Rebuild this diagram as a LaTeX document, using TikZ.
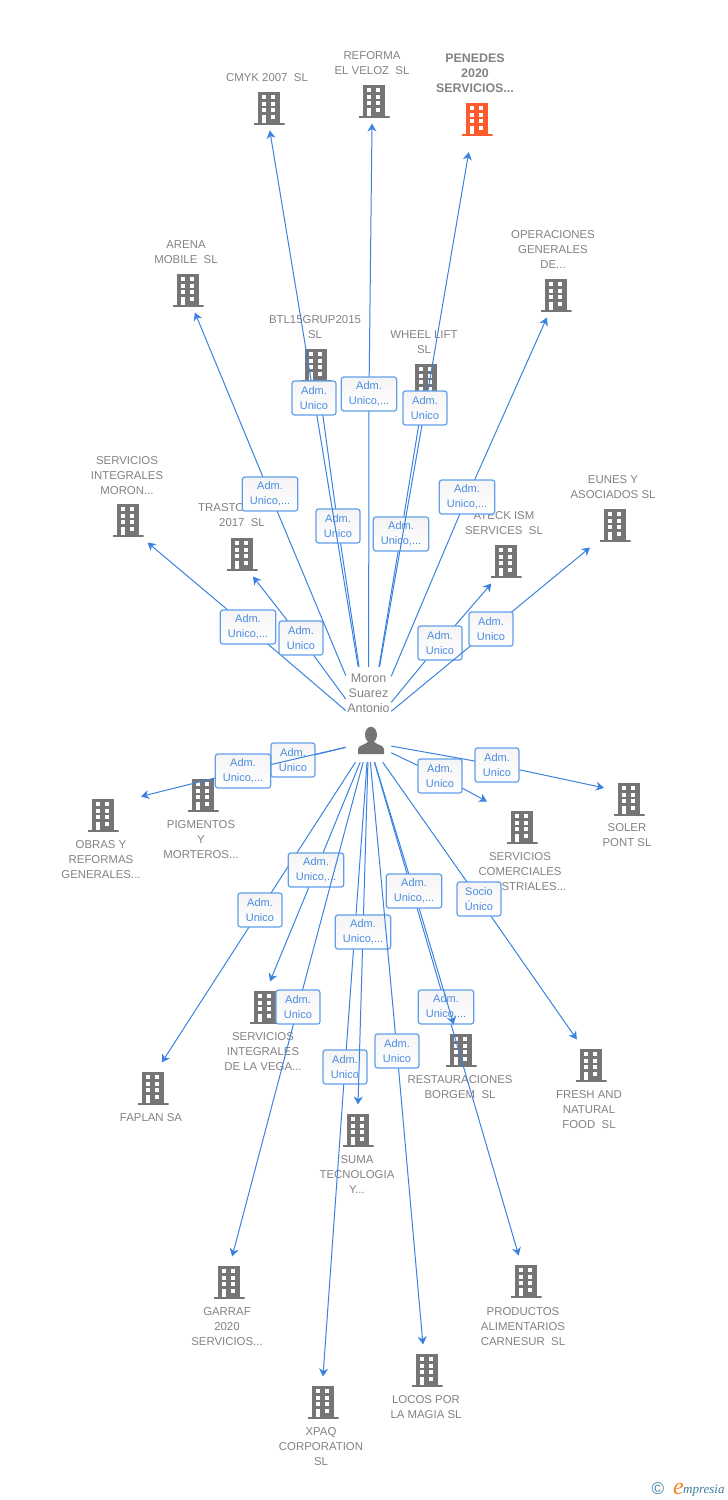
\documentclass[tikz,border=0pt]{standalone}
\usepackage{fontspec}
\setmainfont{Liberation Sans}
\newfontfamily\logofont{Liberation Serif}
\usetikzlibrary{arrows.meta}

\definecolor{officegrey}{HTML}{757575}
\definecolor{officefocus}{HTML}{FF5A2B}
\definecolor{captiongrey}{HTML}{828282}
\definecolor{linkblue}{HTML}{3B82E0}
\definecolor{tagborder}{HTML}{619EEA}
\definecolor{tagtext}{HTML}{4A8BE0}
\definecolor{tagshade}{HTML}{F4F4F4}
\definecolor{logoteal}{HTML}{3F7F9F}
\definecolor{logoorange}{HTML}{F5851F}

\newcommand{\officeshape}[1]{
    \begin{scope}[shift={(path picture bounding box.center)}]
        \fill[#1] (-11,-16.5) rectangle (11,14.5);
        \fill[#1] (-15.5,14.5) rectangle (15.5,16.5);
        \foreach \wy in {-13.5,-6.2,0.2} {
            \fill[white] (-7.3,\wy) rectangle (-3.3,\wy+4);
            \fill[white] (2.3,\wy) rectangle (6.3,\wy+4);
        }
        \fill[white] (2.3,6.8) rectangle (6.3,10.8);
        \fill[white] (-7.3,6.8) rectangle (-3.3,14.5);
    \end{scope}
}
\newcommand{\personshape}{
    \begin{scope}[shift={(path picture bounding box.center)}]
        \fill[officegrey] (2.5,-7.2) ellipse (6 and 8);
        \fill[officegrey] (-10.5,12) -- (-10.5,7) .. controls (-10.5,3) and (-3,3) .. (-1,0)
            -- (6,0) .. controls (8,3) and (15.5,3) .. (15.5,7) -- (15.5,12) -- cycle;
    \end{scope}
}
\newcommand{\uno}{Adm.\\Unico}
\newcommand{\more}{Adm.\\Unico,...}

\tikzset{
    office/.style={rectangle, inner sep=0pt, minimum width=31pt, minimum height=33pt,
        outer xsep=9.5pt, path picture={\officeshape{#1}}},
    office/.default=officegrey,
    upoffice/.style={office, outer ysep=6pt},
    lowoffice/.style={office, outer ysep=9pt},
    caption/.style={align=center, text=captiongrey, inner sep=0pt,
        font=\fontsize{11.4}{15}\selectfont},
    person/.style={rectangle, inner sep=0pt, minimum width=45pt, minimum height=40pt,
        path picture={\personshape}},
    personname/.style={rectangle, inner sep=0pt, text=captiongrey,
        font=\fontsize{12.5}{15}\selectfont},
    link/.style={draw=linkblue, line width=1pt},
    linkto/.style={link, -{Stealth[length=8pt,width=9pt,inset=2.5pt]}},
    tag/.style={rectangle, rounded corners=2.5pt, draw=tagborder, line width=1.2pt,
        top color=tagshade, bottom color=white, text=tagtext, align=center,
        inner xsep=7.5pt, inner ysep=0pt, minimum width=44pt, minimum height=34pt,
        font=\fontsize{11}{15}\selectfont}
}

\begin{document}
\begin{tikzpicture}[x=1pt,y=-1pt]
    \useasboundingbox (0,0) rectangle (728,1500);

    % companies above the person
    \foreach \name/\ox/\oy in {cmyk/269/108, reforma/374/101, arena/188/290, operaciones/556/295,
        btl/316/365, wheel/426/380, moronint/128/520, trasto/242/554, ateck/506/561, eunes/615/525} {
        \node[upoffice] (\name) at (\ox,\oy) {};
    }
    \node[office=officefocus, outer ysep=16.5pt] (penedes) at (477,119) {};

    % companies below the person
    \foreach \name/\ox/\oy in {pigmentos/203/795, soler/629/799, faplan/153/1088, vega/265/1007,
        garraf/229/1282, suma/358/1130, xpaq/323/1402, locos/427/1370, borgem/461/1050,
        productos/526/1281, fresh/591/1065} {
        \node[lowoffice] (\name) at (\ox,\oy) {};
    }
    \node[lowoffice, outer xsep=22.5pt] (obras) at (103,815) {};
    \node[lowoffice, outer xsep=19.5pt] (comerciales) at (522,827) {};

    % names of the companies
    \foreach \name/\cx/\cy/\ctext in {
        cmyk/267/78/{CMYK 2007~~SL},
        reforma/372/63/{REFORMA\\EL VELOZ~~SL},
        arena/186/252/{ARENA\\MOBILE~~SL},
        operaciones/553/250/{OPERACIONES\\GENERALES\\DE...},
        btl/315/327/{BTL15GRUP2015\\SL},
        wheel/424/342/{WHEEL LIFT\\SL},
        moronint/127/476/{SERVICIOS\\INTEGRALES\\MORON...},
        ateck/504/523/{ATECK ISM\\SERVICES~~SL},
        eunes/613/487/{EUNES Y\\ASOCIADOS SL},
        obras/101/860/{OBRAS Y\\REFORMAS\\GENERALES...},
        pigmentos/201/840/{PIGMENTOS\\Y\\MORTEROS...},
        soler/627/835/{SOLER\\PONT SL},
        comerciales/520/872/{SERVICIOS\\COMERCIALES\\INDUSTRIALES...},
        faplan/151/1118/{FAPLAN SA},
        vega/263/1052/{SERVICIOS\\INTEGRALES\\DE LA VEGA...},
        garraf/227/1327/{GARRAF\\2020\\SERVICIOS...},
        suma/357/1175/{SUMA\\TECNOLOGIA\\Y...},
        xpaq/321/1447/{XPAQ\\CORPORATION\\SL},
        locos/426/1407/{LOCOS POR\\LA MAGIA SL},
        borgem/460/1087/{RESTAURACIONES\\BORGEM~~SL},
        productos/523/1327/{PRODUCTOS\\ALIMENTARIOS\\CARNESUR~~SL},
        fresh/589/1110/{FRESH AND\\NATURAL\\FOOD~~SL}} {
        \node[caption] (\name text) at (\cx,\cy) {\ctext};
    }
    \node[caption, anchor=west] (trastotext) at (198,508) {TRASTO};
    \node[caption] (trastotext2) at (242,523) {2017~~SL};
    \node[caption, font=\bfseries\fontsize{12.4}{15}\selectfont] (penedestext) at (475,73) {PENEDES\\2020\\SERVICIOS...};

    % the person: name on top, figure under it
    \node[personname] (moronname) at (368.5,730)
        {\parbox[c][126pt][t]{45pt}{\centering\vspace*{6.5pt}Moron\\Suarez\\Antonio}};
    \node[person] (moron) at (368.5,742) {};

    % links going up, in drawing order
    \foreach \lab/\lx/\ly/\ltext/\target in {
        tagbtl/338/526/\uno/btl,
        tagcmyk/314/398/\uno/cmyk.-88,
        tagreforma/369/394/\more/reforma.-95,
        tagwheel/401/534/\more/wheel,
        tagpenedes/425/408/\uno/penedes.-104,
        tagarena/270/494/\more/arena.-73,
        tagoper/467/497/\more/operaciones.-112,
        tagmoronint/248/627/\more/moronint.-49,
        tagtrasto/301/638/\uno/trasto.-64,
        tagateck/440/643/\uno/ateck.-123,
        tageunes/491/629/\uno/eunes.-138} {
        \coordinate (\lab) at (\lx,\ly);
        \draw[link] (moronname) -- (\lab);
        \draw[linkto] (\lab) -- (\target);
        \node[tag] (\lab) at (\lx,\ly) {\ltext};
    }

    % links going down, in drawing order
    \foreach \lab/\lx/\ly/\ltext/\target in {
        tagpigmentos/293/760/\uno/pigmentos,
        tagobras/243/771/\more/obras.26.6,
        tagcomerciales/440/776/\uno/comerciales.144.5,
        tagsoler/497/765/\uno/soler.156,
        tagfaplan/260/910/\uno/faplan.71,
        tagvega/316/870/\more/vega.79,
        taggarraf/298/1007/\uno/garraf.83,
        tagxpaq/345/1067/\uno/xpaq.90,
        tagsuma/363/932/\more/suma.90,
        taglocos/397/1051/\uno/locos.99,
        tagproductos/446/1007/\more/productos.106,
        tagborgem/414/891/\more/borgem.106,
        tagfresh/479/899/{Socio\\Único}/fresh.119} {
        \coordinate (\lab) at (\lx,\ly);
        \draw[link] (moron) -- (\lab);
        \draw[linkto] (\lab) -- (\target);
        \node[tag] (\lab) at (\lx,\ly) {\ltext};
    }

    % logo in the corner
    \node[text=logoteal, inner sep=0pt, font=\fontsize{17}{17}\selectfont] (logoc) at (658,1489) {©};
    \node[text=logoorange, inner sep=0pt, anchor=base east, font=\logofont\itshape\fontsize{24}{24}\selectfont] (logoe) at (684,1494) {e};
    \node[text=logoteal, inner sep=0pt, anchor=base west, font=\logofont\itshape\fontsize{13}{13}\selectfont] (logoname) at (683,1493) {mpresia};
\end{tikzpicture}
\end{document}
